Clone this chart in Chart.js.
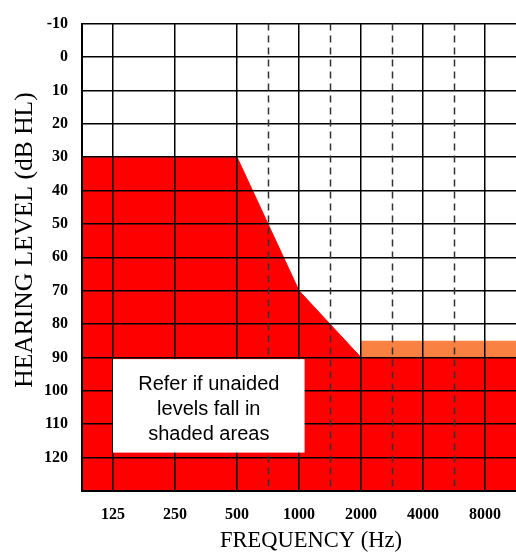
<!DOCTYPE html>
<html>
<head>
<meta charset="utf-8">
<script src="https://cdn.jsdelivr.net/npm/chart.js@4.4.1/dist/chart.umd.min.js"></script>
<style>
  html, body { margin: 0; padding: 0; background: #fff; }
  #wrap { width: 516px; height: 552px; }
</style>
</head>
<body>
<div id="wrap"><canvas id="audio"></canvas></div>
<script>
// frequency labels, one per octave position (0 = 125 Hz)
const freqLabels = ['125', '250', '500', '1000', '2000', '4000', '8000'];
const octavePos = [0, 1, 2, 3, 4, 5, 6];
// half-octave positions (750, 1500, 3000, 6000) drawn dashed
const halfOctavePos = [2.5, 3.5, 4.5, 5.5];

// refer region (red), x in octave positions, y in dB HL
const referX = [-0.5, 2, 3, 4, 6.5];
const referY = [30, 30, 70, 90, 90];
const referBottom = 130;
// orange band above 2000 Hz
const bandX = [4, 6.5];
const bandTop = [85, 85];
const bandBottom = 90;

const boxLines = ['Refer if unaided', 'levels fall in', 'shaded areas'];
const serif = '"Liberation Serif", "Times New Roman", serif';

function toPoints(xs, ys) {
    return xs.map((x, i) => ({x: x, y: ys[i]}));
}

// dashed half-octave lines, the white note box and axis titles
const overlayPlugin = {
    id: 'overlay',
    afterDraw(chart) {
        const ctx = chart.ctx;
        const xs = chart.scales.x;
        const ys = chart.scales.y;
        const area = chart.chartArea;
        ctx.save();
        ctx.strokeStyle = '#333';
        ctx.lineWidth = 1.5;
        ctx.setLineDash([7, 5]);
        halfOctavePos.forEach(p => {
            const px = Math.round(xs.getPixelForValue(p)) + 0.5;
            ctx.beginPath();
            ctx.moveTo(px, area.top);
            ctx.lineTo(px, area.bottom);
            ctx.stroke();
        });
        ctx.setLineDash([]);

        // note box
        const x0 = xs.getPixelForValue(0);
        const x1 = xs.getPixelForValue(3.09);
        const y0 = ys.getPixelForValue(90.5);
        const y1 = ys.getPixelForValue(118.5);
        ctx.fillStyle = '#fff';
        ctx.fillRect(x0, y0, x1 - x0, y1 - y0);
        ctx.fillStyle = '#000';
        ctx.font = '20px "Liberation Sans", Arial, sans-serif';
        ctx.textAlign = 'center';
        ctx.textBaseline = 'middle';
        const cx = (x0 + x1) / 2;
        boxLines.forEach((t, i) => {
            ctx.fillText(t, cx, y0 + 25 + i * 25);
        });

        // axis titles
        ctx.font = '22.5px ' + serif;
        ctx.fillText('FREQUENCY (Hz)', 311, 541);
        ctx.translate(25, 240);
        ctx.rotate(-Math.PI / 2);
        ctx.font = '25.5px ' + serif;
        ctx.fillText('HEARING LEVEL (dB HL)', 0, 0);
        ctx.restore();
    }
};

const ctx = document.getElementById('audio').getContext('2d');
new Chart(ctx, {
    type: 'line',
    data: {
        datasets: [{
            data: toPoints(referX, referY),
            borderColor: '#ff0000',
            backgroundColor: '#ff0000',
            borderWidth: 1,
            pointRadius: 0,
            fill: {value: referBottom},
            tension: 0
        }, {
            data: toPoints(bandX, bandTop),
            borderColor: '#f98243',
            backgroundColor: '#f98243',
            borderWidth: 0,
            pointRadius: 0,
            fill: {value: bandBottom},
            tension: 0
        }]
    },
    options: {
        responsive: true,
        maintainAspectRatio: false,
        animation: false,
        layout: { padding: {top: 19, right: 0, bottom: 0, left: 0} },
        plugins: {
            legend: { display: false },
            tooltip: { enabled: false }
        },
        scales: {
            x: {
                type: 'linear',
                min: -0.5,
                max: 6.5,
                afterBuildTicks: (scale) => {
                    scale.ticks = octavePos.map(v => ({value: v}));
                },
                afterFit: (scale) => { scale.height = 61; },
                ticks: {
                    callback: (v, i) => freqLabels[i],
                    color: '#000',
                    padding: 14,
                    maxRotation: 0,
                    font: { family: serif, size: 16, weight: 'bold' }
                },
                grid: { color: '#000', lineWidth: 1.5, drawTicks: false, z: 1 },
                border: { color: '#000', width: 2, z: 1 }
            },
            y: {
                reverse: true,
                min: -10,
                max: 130,
                afterFit: (scale) => { scale.width = 82; },
                ticks: {
                    stepSize: 10,
                    callback: (v) => v === 130 ? '' : v,
                    color: '#000',
                    padding: 14,
                    font: { family: serif, size: 16, weight: 'bold' }
                },
                grid: { color: '#000', lineWidth: 1.5, drawTicks: false, z: 1 },
                border: { color: '#000', width: 2, z: 1 }
            }
        }
    },
    plugins: [overlayPlugin]
});
</script>
</body>
</html>
